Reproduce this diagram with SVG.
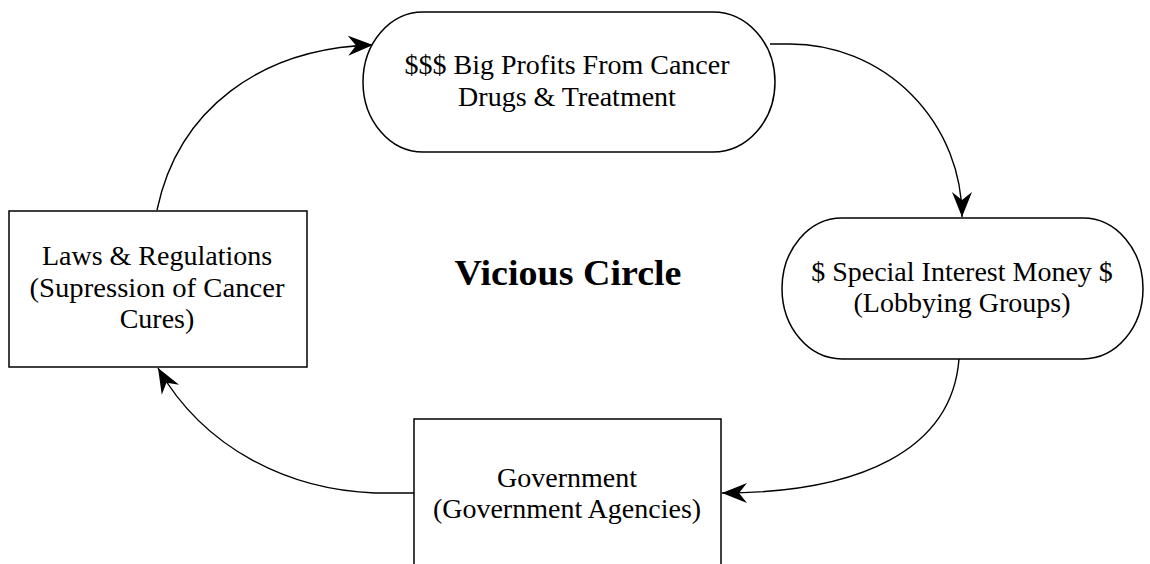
<svg xmlns="http://www.w3.org/2000/svg" width="1150" height="564" viewBox="0 0 1150 564">
<style>
.shape{fill:#fff;stroke:#000;stroke-width:1.5}
.conn{fill:none;stroke:#000;stroke-width:1.4;marker-end:url(#arr)}
text{font-family:"Liberation Serif","Times New Roman",serif;font-size:28px;fill:#000;text-anchor:middle}
.title{font-weight:bold;font-size:35px}
</style>
<defs>
<marker id="arr" markerUnits="userSpaceOnUse" markerWidth="26" markerHeight="22" viewBox="0 0 26 22" refX="25" refY="11" orient="auto">
<path d="M0,1 L25,11 L0,21 L8,11 Z" fill="#000"/>
</marker>
</defs>
<rect width="1150" height="564" fill="#fff"/>
<g id="connectors">
<path class="conn" d="M770 44 L790 44 A172 173 0 0 1 962 217"/>
<path class="conn" d="M959 359 C952 450 860 493 722 493"/>
<path class="conn" d="M414 493 L375 493 C290 490 205 450 158 368"/>
<path class="conn" d="M157 210 C178 110 260 48 373 45"/>
</g>
<g id="node-profits">
<path class="shape" d="M423 12 L713 12 A62 70 0 0 1 713 152 L423 152 A60 70 0 0 1 423 12 Z"/>
<text x="567" y="74">$$$ Big Profits From Cancer</text>
<text x="567" y="106">Drugs &amp; Treatment</text>
</g>
<g id="node-lobby">
<path class="shape" d="M842 218 L1083 218 A60 70.5 0 0 1 1083 359 L842 359 A60 70.5 0 0 1 842 218 Z"/>
<text x="962" y="281">$ Special Interest Money $</text>
<text x="962" y="312">(Lobbying Groups)</text>
</g>
<g id="node-government">
<rect class="shape" x="414" y="419" width="307" height="160"/>
<text x="567" y="487">Government</text>
<text x="567" y="518">(Government Agencies)</text>
</g>
<g id="node-laws">
<rect class="shape" x="9" y="211" width="298" height="156"/>
<text x="157" y="265">Laws &amp; Regulations</text>
<text x="157" y="297" textLength="255" lengthAdjust="spacingAndGlyphs">(Supression of Cancer</text>
<text x="157" y="328">Cures)</text>
</g>
<g id="title">
<text class="title" x="568" y="285" textLength="227" lengthAdjust="spacingAndGlyphs">Vicious Circle</text>
</g>
</svg>
